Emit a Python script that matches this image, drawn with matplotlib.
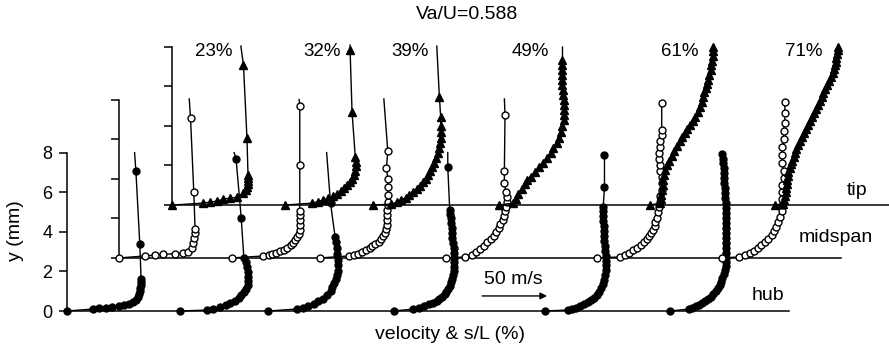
import numpy as np
import matplotlib
matplotlib.use('Agg')
import matplotlib.pyplot as plt

plt.rcParams['font.family'] = ['Liberation Sans', 'DejaVu Sans']
plt.rcParams['font.size'] = 13.5

# measurement stations along the chord (s/L, %)
stations = [23, 32, 39, 49, 61, 71]
station_labels = ['23%', '32%', '39%', '49%', '61%', '71%']

# hub profiles: velocity (m/s) against distance from wall y (mm)
hub_23_v = [0, 20, 25, 30, 35, 40, 44, 48, 51, 53, 55, 55.5, 56, 56.5, 57, 57, 57, 56, 53, 52]
hub_23_y = [0, 0.10, 0.13, 0.17, 0.20, 0.25, 0.30, 0.36, 0.45, 0.55, 0.70, 0.85, 1.00, 1.15, 1.30, 1.45, 1.60, 3.38, 7.07, 8.0]
hub_32_v = [0, 21, 25, 31, 35, 38, 42, 45, 47, 49, 51, 52, 52, 52, 52, 51.5, 51, 49, 47, 43, 41.5]
hub_32_y = [0, 0.05, 0.10, 0.20, 0.30, 0.40, 0.52, 0.65, 0.80, 0.95, 1.10, 1.30, 1.50, 1.70, 1.95, 2.20, 2.45, 2.70, 4.70, 7.70, 8.0]
hub_39_v = [0, 22, 27, 31, 35, 38, 42, 45, 48, 49, 51, 52, 53, 54, 54, 54, 53, 53, 52, 51.5, 48, 45]
hub_39_y = [0, 0.10, 0.15, 0.25, 0.35, 0.50, 0.62, 0.80, 1.00, 1.20, 1.40, 1.60, 1.80, 2.00, 2.30, 2.60, 2.90, 3.20, 3.50, 3.75, 5.45, 8.0]
hub_49_v = [0, 15, 19, 23, 27, 30, 33, 35, 37, 39, 40.5, 42, 43, 44, 45, 45.5, 46, 46, 46, 46,
            46, 46, 45.5, 45, 44.5, 44.5, 44, 44, 43.5, 43, 41.5, 41.5]
hub_49_y = [0, 0.10, 0.16, 0.24, 0.33, 0.42, 0.52, 0.62, 0.73, 0.85, 0.98, 1.12, 1.28, 1.45, 1.62, 1.80, 2.00, 2.20, 2.45, 2.70,
            2.95, 3.20, 3.45, 3.70, 3.95, 4.20, 4.45, 4.70, 4.90, 5.10, 7.27, 8.0]
hub_61_v = [0, 18, 21, 24, 27, 30, 33, 36, 38, 40, 42, 43.5, 45, 46, 46.5, 47, 47, 47, 47, 46.5,
            46.5, 46, 46, 45.5, 45.5, 45, 45, 45, 45, 46, 46]
hub_61_y = [0, 0.05, 0.10, 0.17, 0.25, 0.34, 0.44, 0.56, 0.68, 0.82, 0.98, 1.15, 1.35, 1.58, 1.82, 2.05, 2.30, 2.55, 2.80, 3.05,
            3.30, 3.55, 3.80, 4.05, 4.30, 4.55, 4.80, 5.05, 5.25, 6.26, 7.88]
hub_71_v = [0, 14.5, 17, 19.5, 22, 24.5, 27, 29, 31, 33, 35, 36.5, 38, 39, 40, 41, 42, 42.5, 43, 43,
            43, 43, 43, 43, 43, 43, 43, 43, 43, 42.5, 42.5, 42, 42, 42, 41.5, 41.5, 41, 41, 40.5, 40.5, 40]
hub_71_y = [0, 0.10, 0.16, 0.23, 0.31, 0.40, 0.50, 0.61, 0.73, 0.86, 1.00, 1.15, 1.31, 1.48, 1.66, 1.85, 2.05, 2.25, 2.45, 2.70,
            2.95, 3.20, 3.45, 3.70, 3.95, 4.20, 4.45, 4.70, 4.95, 5.20, 5.45, 5.70, 5.95, 6.20, 6.45, 6.70, 6.95, 7.20, 7.45, 7.70, 7.95]
# last point of a profile is only a line end (no symbol) where True
hub_tail = [True, True, True, True, False, False]

# midspan profiles
mid_23_v = [0, 20, 28, 34, 43, 49, 53, 56, 57, 58, 58.5, 58.5, 57.5, 55, 54]
mid_23_y = [0, 0.10, 0.15, 0.20, 0.20, 0.25, 0.30, 0.50, 0.76, 1.00, 1.26, 1.46, 3.33, 7.07, 8.03]
mid_32_v = [0, 24, 28, 31, 34, 37, 40, 42, 45, 47, 48.5, 50, 51.5, 52, 52, 52, 52, 52, 52, 52, 51.5]
mid_32_y = [0, 0.10, 0.14, 0.20, 0.26, 0.33, 0.42, 0.52, 0.63, 0.76, 0.90, 1.05, 1.20, 1.40, 1.65, 1.90, 2.15, 2.37, 4.70, 7.68, 8.0]
mid_39_v = [0, 22, 26, 29, 32, 35, 38, 40, 42, 45, 47, 48.5, 50, 51, 51.5, 51.5, 51.5, 51.5, 52, 52,
            52, 52.5, 52, 51, 52, 49]
mid_39_y = [0, 0.10, 0.15, 0.22, 0.30, 0.38, 0.48, 0.58, 0.70, 0.83, 0.97, 1.12, 1.28, 1.45, 1.65, 1.90, 2.15, 2.40, 2.65, 2.85,
            3.20, 3.60, 4.00, 4.55, 5.40, 8.03]
mid_49_v = [0, 15, 20, 23, 26, 29, 32, 35, 37, 38.5, 41, 42, 44, 45, 45.5, 46, 47, 47, 46, 45, 45, 45.5, 45]
mid_49_y = [0, 0.05, 0.15, 0.30, 0.45, 0.60, 0.78, 0.95, 1.12, 1.30, 1.50, 1.70, 1.90, 2.10, 2.35, 2.58, 2.85, 3.10, 3.35, 3.79, 4.40, 7.23, 8.03]
mid_61_v = [0, 18, 21.5, 25, 28, 31, 34, 36, 38.5, 40, 41.5, 43, 44.5, 45, 46, 47, 48, 48.5, 49, 50,
            50, 50, 49, 48.5, 48, 48, 48.5, 49, 50, 50, 50]
mid_61_y = [0, 0.05, 0.15, 0.25, 0.38, 0.50, 0.65, 0.80, 0.95, 1.10, 1.25, 1.40, 1.60, 1.80, 2.00, 2.30, 2.58, 2.85, 3.15, 3.45,
            3.80, 4.10, 4.40, 4.70, 5.00, 5.30, 5.60, 5.90, 6.20, 6.46, 7.83]
mid_71_v = [0, 13, 17, 21, 24, 27, 30, 33, 35, 38, 40, 41.5, 43, 44.5, 45.5, 46, 46, 46, 46, 47,
            47, 46, 46, 46, 47, 47, 48, 48, 48]
mid_71_y = [0, 0.05, 0.15, 0.25, 0.37, 0.50, 0.65, 0.80, 0.97, 1.15, 1.35, 1.55, 1.80, 2.05, 2.35, 2.65, 3.00, 3.35, 3.70, 4.05,
            4.40, 4.80, 5.20, 5.60, 6.00, 6.40, 6.80, 7.30, 7.88]
mid_tail = [True, True, True, True, False, False]

# tip profiles
tip_23_v = [0, 24, 29, 35, 39, 45, 50, 55, 57, 58, 58.5, 58.5, 58.5, 58.5, 57.7, 55, 53]
tip_23_y = [0, 0.10, 0.15, 0.20, 0.30, 0.35, 0.40, 0.60, 0.75, 0.90, 1.05, 1.20, 1.35, 1.50, 3.38, 7.07, 8.03]
tip_32_v = [0, 21, 25, 29, 33, 37, 40, 43, 45, 48, 50, 51.5, 53, 54, 54.5, 54.5, 54, 51.5, 50, 50]
tip_32_y = [0, 0.10, 0.17, 0.25, 0.35, 0.45, 0.57, 0.70, 0.85, 1.00, 1.15, 1.30, 1.50, 1.70, 1.95, 2.20, 2.42, 4.70, 7.83, 8.08]
tip_39_v = [0, 14, 18.5, 21.5, 25, 28, 31, 34, 36, 38.5, 41, 42, 44, 45, 47, 48.5, 50, 51, 51.5, 52,
            52, 52, 52, 51, 49]
tip_39_y = [0, 0.05, 0.15, 0.25, 0.37, 0.50, 0.65, 0.80, 0.97, 1.15, 1.32, 1.50, 1.70, 1.92, 2.15, 2.40, 2.65, 2.90, 3.15, 3.40,
            3.70, 4.00, 4.45, 5.45, 8.03]
tip_49_v = [0, 11, 13, 15, 18, 20, 22, 25, 28, 31, 34, 37, 40, 42, 44.5, 46, 48, 49, 50, 50,
            50, 50, 50, 49.5, 49.5, 49, 49, 49, 49, 49, 49, 49]
tip_49_y = [0, 0.10, 0.30, 0.55, 0.80, 1.05, 1.25, 1.41, 1.65, 1.90, 2.15, 2.40, 2.65, 2.88, 3.15, 3.40, 3.70, 4.00, 4.30, 4.55,
            4.80, 5.05, 5.30, 5.55, 5.80, 6.05, 6.30, 6.55, 6.80, 7.05, 7.32, 7.98]
tip_61_v = [0, 8, 8.5, 9, 9.5, 10, 10.5, 11, 12, 13.5, 15, 17, 19, 21, 23, 25, 27, 29, 31, 33,
            35, 37, 38.5, 40, 41, 42, 43, 44, 45, 46, 47, 47.5, 48, 48.5, 48.5, 48.5]
tip_61_y = [0, 0.10, 0.30, 0.50, 0.75, 1.00, 1.25, 1.50, 1.75, 2.00, 2.25, 2.50, 2.75, 3.00, 3.25, 3.45, 3.65, 3.85, 4.05, 4.25,
            4.45, 4.70, 4.95, 5.20, 5.45, 5.70, 5.90, 6.10, 6.30, 6.55, 6.80, 7.05, 7.30, 7.55, 7.80, 7.98]
tip_71_v = [0, 6, 7, 7.5, 8, 8.5, 9, 9, 9.5, 10, 11, 12, 13, 14, 15, 16, 17.5, 19, 20.5, 22,
            23.5, 25, 26.5, 28, 29.5, 31, 32.5, 34, 35.5, 37, 38.5, 40, 41.5, 43, 44, 45, 45.5, 46.5, 47, 47.5,
            48, 48]
tip_71_y = [0, 0.05, 0.25, 0.45, 0.65, 0.85, 1.05, 1.25, 1.45, 1.65, 1.85, 2.05, 2.25, 2.45, 2.65, 2.85, 3.05, 3.25, 3.45, 3.65,
            3.85, 4.05, 4.25, 4.45, 4.65, 4.85, 5.05, 5.25, 5.45, 5.65, 5.85, 6.05, 6.25, 6.45, 6.65, 6.85, 7.05, 7.25, 7.45, 7.65,
            7.85, 8.00]
tip_tail = [True, True, True, True, False, False]

hub_v = [hub_23_v, hub_32_v, hub_39_v, hub_49_v, hub_61_v, hub_71_v]
hub_y = [hub_23_y, hub_32_y, hub_39_y, hub_49_y, hub_61_y, hub_71_y]
mid_v = [mid_23_v, mid_32_v, mid_39_v, mid_49_v, mid_61_v, mid_71_v]
mid_y = [mid_23_y, mid_32_y, mid_39_y, mid_49_y, mid_61_y, mid_71_y]
tip_v = [tip_23_v, tip_32_v, tip_39_v, tip_49_v, tip_61_v, tip_71_v]
tip_y = [tip_23_y, tip_32_y, tip_39_y, tip_49_y, tip_61_y, tip_71_y]

# velocity is drawn as a shift along the s/L axis: 50 m/s spans this many %
arrow_len = 5.17
v_scale = arrow_len / 50.0

# frame geometry (hub frame coordinates); midspan and tip frames are shifted
x_lim = (17.67, 88.39)
y_lim = (-1.818, 15.707)
mid_shift = (4.14, 2.68)
tip_shift = (8.35, 5.35)
base_len = 57.4

fig = plt.figure(figsize=(8.89, 3.47), dpi=100)


def make_frame(shift, labels):
    ax = fig.add_axes([0, 0, 1, 1])
    ax.set_xlim(x_lim[0] - shift[0], x_lim[1] - shift[0])
    ax.set_ylim(y_lim[0] - shift[1], y_lim[1] - shift[1])
    ax.patch.set_visible(False)
    ax.spines['top'].set_visible(False)
    ax.spines['right'].set_visible(False)
    ax.spines['left'].set_position(('data', stations[0]))
    ax.spines['left'].set_bounds(0, 8)
    ax.spines['bottom'].set_position(('data', 0))
    ax.spines['bottom'].set_bounds(stations[0], stations[0] + base_len)
    for sp in ('left', 'bottom'):
        ax.spines[sp].set_linewidth(1.1)
    ax.set_xticks([])
    ax.set_yticks([0, 2, 4, 6, 8])
    ax.tick_params(axis='y', direction='out', length=5.5, width=1.1, pad=5, labelsize=13)
    if not labels:
        ax.set_yticklabels([])
    return ax


def draw_profiles(ax, vs, ys, tails, marker, face, ms):
    for s, v, y, tail in zip(stations, vs, ys, tails):
        x = s + v_scale * np.asarray(v, dtype=float)
        y = np.asarray(y, dtype=float)
        ax.plot(x, y, color='black', lw=1.0, zorder=3)
        n = len(x) - 1 if tail else len(x)
        ax.plot(x[:n], y[:n], ls='none', marker=marker, ms=ms, mfc=face,
                mec='black', mew=1.0, zorder=4)


ax_hub = make_frame((0, 0), True)
ax_mid = make_frame(mid_shift, False)
ax_tip = make_frame(tip_shift, False)

draw_profiles(ax_hub, hub_v, hub_y, hub_tail, 'o', 'black', 5.0)
draw_profiles(ax_mid, mid_v, mid_y, mid_tail, 'o', 'white', 5.0)
draw_profiles(ax_tip, tip_v, tip_y, tip_tail, '^', 'black', 5.2)

# station labels above the tip profiles
label_x = [34.69, 43.29, 50.29, 59.83, 71.77, 81.63]
for lx, lab in zip(label_x, station_labels):
    ax_hub.text(lx, 13.13, lab, ha='center', va='center', fontsize=13.5)

ax_hub.text(85.85, 6.11, 'tip', ha='center', va='center', fontsize=14)
ax_hub.text(84.18, 3.69, 'midspan', ha='center', va='center', fontsize=14)
ax_hub.text(78.77, 0.76, 'hub', ha='center', va='center', fontsize=14)

# velocity scale arrow
ax_hub.annotate('', xy=(56.02 + arrow_len, 0.76), xytext=(56.02, 0.76),
                arrowprops=dict(arrowstyle='-|>', color='black', lw=1.0,
                                mutation_scale=10, shrinkA=0, shrinkB=0))
ax_hub.text(58.48, 1.57, '50 m/s', ha='center', va='center', fontsize=14)

fig.text(0.525, 0.957, 'Va/U=0.588', ha='center', va='center', fontsize=14)
fig.text(0.506, 0.035, 'velocity & s/L (%)', ha='center', va='center', fontsize=14)
fig.text(0.017, 0.334, 'y (mm)', ha='center', va='center', rotation=90, fontsize=14)

fig.savefig('out.png', dpi=100)
